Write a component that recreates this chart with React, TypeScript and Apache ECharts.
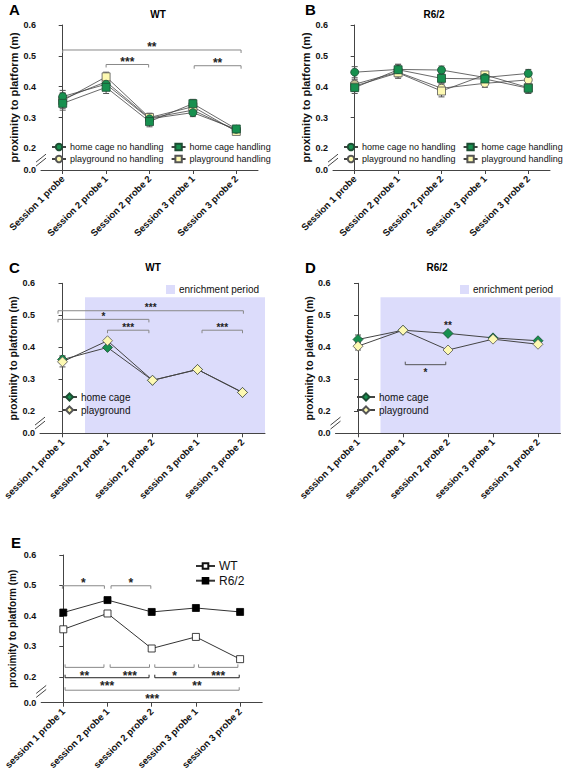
import React, { useEffect, useRef } from 'react';
import * as echarts from 'echarts';

const FONT = 'Liberation Sans, Arial, Helvetica, sans-serif';

// ---- categories ----
const catsAB = ['Session 1 probe', 'Session 2 probe 1', 'Session 2 probe 2', 'Session 3 probe 1', 'Session 3 probe 2'];
const catsCDE = ['session 1 probe 1', 'session 2 probe 1', 'session 2 probe 2', 'session 3 probe 1', 'session 3 probe 2'];

// ---- panel A (WT) ----
const wtHcNoH = [0.368, 0.408, 0.296, 0.316, 0.262];
const wtPgNoH = [0.360, 0.416, 0.298, 0.324, 0.258];
const wtHcH = [0.346, 0.398, 0.287, 0.345, 0.263];
const wtPgH = [0.355, 0.432, 0.300, 0.335, 0.255];
const wtHcNoHErr = [0.020, 0.015, 0.012, 0.013, 0.008];
const wtPgNoHErr = [0.018, 0.015, 0.012, 0.012, 0.008];
const wtHcHErr = [0.022, 0.020, 0.017, 0.014, 0.010];
const wtPgHErr = [0.025, 0.015, 0.014, 0.014, 0.008];

// ---- panel B (R6/2) ----
const r6HcNoH = [0.447, 0.456, 0.454, 0.430, 0.443];
const r6PgNoH = [0.408, 0.447, 0.395, 0.411, 0.422];
const r6HcH = [0.397, 0.455, 0.427, 0.425, 0.395];
const r6PgH = [0.402, 0.445, 0.386, 0.438, 0.397];
const r6HcNoHErr = [0.018, 0.017, 0.013, 0.010, 0.013];
const r6PgNoHErr = [0.016, 0.015, 0.014, 0.013, 0.012];
const r6HcHErr = [0.019, 0.016, 0.015, 0.012, 0.017];
const r6PgHErr = [0.017, 0.018, 0.019, 0.009, 0.017];

// ---- panel C (WT) ----
const wtHomeCage = [0.361, 0.399, 0.296, 0.330, 0.258];
const wtPlayground = [0.354, 0.420, 0.296, 0.330, 0.258];
const wtHomeCageErr = [0.012, 0.004, 0.004, 0.004, 0.004];
const wtPlaygroundErr = [0.016, 0.004, 0.004, 0.004, 0.004];

// ---- panel D (R6/2) ----
const r6HomeCage = [0.424, 0.453, 0.443, 0.429, 0.420];
const r6Playground = [0.403, 0.453, 0.391, 0.425, 0.409];
const r6HomeCageErr = [0.014, 0.005, 0.005, 0.005, 0.005];
const r6PlaygroundErr = [0.012, 0.005, 0.005, 0.005, 0.005];

// enrichment period shading: [from category position, to category position, top value]
const enrichPeriod = [0.5, 4.5, 0.556];

// ---- panel E ----
const eWT = [0.356, 0.408, 0.293, 0.331, 0.258];
const eR6 = [0.411, 0.452, 0.413, 0.426, 0.413];

// ---- y ticks ----
const yTicksAD = [0.13, 0.2, 0.3, 0.4, 0.5, 0.6];
const yTicksE = [0.115, 0.2, 0.3, 0.4, 0.5, 0.6];

// ---- significance brackets: [x1, x2, y, dir]  dir -1: label above, +1: label below, 0: text only ----
const bracketsA = [[0, 4.11, 0.519, -1], [1, 1.98, 0.472, -1], [3.03, 4.11, 0.468, -1]];
const bracketLabelsA = ['**', '***', '**'];
const bracketsC = [[-0.1, 4.02, 0.514, -1], [-0.1, 1.92, 0.487, -1], [1, 1.92, 0.453, -1], [3.1, 4.0, 0.453, -1]];
const bracketLabelsC = ['***', '*', '***', '***'];
const bracketsD = [[1.05, 1.95, 0.345, 1], [2, 2, 0.474, 0]];
const bracketLabelsD = ['*', '**'];
const bracketsEGray = [
  [-0.02, 0.93, 0.499, -1], [1.08, 1.98, 0.499, -1],
  [0.04, 0.92, 0.231, 1], [1.06, 1.95, 0.231, 1], [2.07, 2.96, 0.231, 1], [3.06, 3.95, 0.231, 1],
  [0.04, 3.98, 0.156, 1],
];
const bracketLabelsEGray = ['*', '*', '**', '***', '*', '***', '***'];
const bracketsEBlack = [[0.04, 1.94, 0.197, 1], [2.07, 3.98, 0.197, 1]];
const bracketLabelsEBlack = ['***', '**'];

const breakYs = [0.162, 0.162, 0.162, 0.162, 0.152];

const GREEN = '#17904f';
const YELLOW = '#fdf9b2';
const SHADE = '#dcdcfb';

const grids = [
  { left: 41, top: 25, width: 217, height: 145 },
  { left: 333, top: 25, width: 217, height: 145 },
  { left: 40, top: 283.3, width: 225, height: 150 },
  { left: 335.5, top: 283.3, width: 225, height: 150 },
  { left: 41.2, top: 555, width: 221, height: 147.7 },
];
const yMins = [0.13, 0.13, 0.13, 0.13, 0.115];
const nameGaps = [19, 19, 22, 19.5, 24];
const nameSizes = [11, 11, 10.5, 10.5, 10];

function errSeries(g: number, vals: number[], errs: number[]) {
  return {
    type: 'custom',
    xAxisIndex: 2 * g + 1,
    yAxisIndex: g,
    z: 2,
    clip: false,
    silent: true,
    encode: { x: 0, y: 1 },
    data: vals.map((v, i) => [i, v, errs[i]]),
    renderItem: (params: any, api: any) => {
      const x = api.value(0), y = api.value(1), e = api.value(2);
      const t = api.coord([x, y + e]);
      const b = api.coord([x, y - e]);
      const st = { stroke: '#555', lineWidth: 1 };
      return {
        type: 'group',
        children: [
          { type: 'line', shape: { x1: t[0], y1: t[1], x2: b[0], y2: b[1] }, style: st },
          { type: 'line', shape: { x1: t[0] - 3, y1: t[1], x2: t[0] + 3, y2: t[1] }, style: st },
          { type: 'line', shape: { x1: b[0] - 3, y1: b[1], x2: b[0] + 3, y2: b[1] }, style: st },
        ],
      };
    },
  };
}

function bracketSeries(g: number, rows: number[][], labels: string[], color: string, fs: number) {
  return {
    type: 'custom',
    xAxisIndex: 2 * g + 1,
    yAxisIndex: g,
    z: 5,
    clip: false,
    silent: true,
    encode: { x: [0, 1], y: 2 },
    data: rows,
    renderItem: (params: any, api: any) => {
      const x1 = api.value(0), x2 = api.value(1), y = api.value(2), dir = api.value(3);
      const p1 = api.coord([x1, y]);
      const p2 = api.coord([x2, y]);
      const children: any[] = [];
      if (dir !== 0) {
        children.push({
          type: 'polyline',
          shape: { points: [[p1[0], p1[1] - dir * 3], [p1[0], p1[1]], [p2[0], p2[1]], [p2[0], p2[1] - dir * 3]] },
          style: { stroke: color, fill: null, lineWidth: 1 },
        });
      }
      const cx = (p1[0] + p2[0]) / 2;
      const ty = dir === 0 ? p1[1] : dir < 0 ? p1[1] - 5 : p1[1] + 6;
      children.push({
        type: 'text',
        style: {
          text: labels[params.dataIndex],
          x: cx,
          y: ty + 0.2 * fs,
          align: 'center',
          verticalAlign: 'middle',
          font: `bold ${fs}px ${FONT}`,
          fill: '#222',
        },
      });
      return { type: 'group', children };
    },
  };
}

function breakSeries(g: number) {
  return {
    type: 'custom',
    xAxisIndex: 2 * g + 1,
    yAxisIndex: g,
    z: 6,
    clip: false,
    silent: true,
    encode: { x: 0, y: 1 },
    data: [[-0.5, breakYs[g]]],
    renderItem: (params: any, api: any) => {
      const p = api.coord([api.value(0), api.value(1)]);
      const st = { stroke: '#444', lineWidth: 1 };
      return {
        type: 'group',
        children: [
          { type: 'rect', shape: { x: p[0] - 1.5, y: p[1] - 2, width: 3, height: 4 }, style: { fill: '#fff' } },
          { type: 'line', shape: { x1: p[0] - 5, y1: p[1] + 6, x2: p[0] + 5, y2: p[1] - 2 }, style: st },
          { type: 'line', shape: { x1: p[0] - 5, y1: p[1] + 2, x2: p[0] + 5, y2: p[1] - 6 }, style: st },
        ],
      };
    },
  };
}

function lineSeries(g: number, name: string, data: number[], symbol: string, size: number, fill: string, border: string, lineColor: string, lw: number, z = 3) {
  return {
    type: 'line',
    name,
    xAxisIndex: 2 * g,
    yAxisIndex: g,
    data,
    symbol,
    symbolSize: size,
    z,
    itemStyle: { color: fill, borderColor: border, borderWidth: 0.8, opacity: 1 },
    lineStyle: { color: lineColor, width: lw },
    emphasis: { disabled: true },
  };
}

function enrichSeries(g: number) {
  return {
    type: 'custom',
    name: 'enrichment period',
    xAxisIndex: 2 * g + 1,
    yAxisIndex: g,
    z: 1,
    clip: false,
    silent: true,
    encode: { x: [0, 1], y: 2 },
    itemStyle: { color: SHADE },
    data: [enrichPeriod],
    renderItem: (params: any, api: any) => {
      const a = api.coord([api.value(0), api.value(2)]);
      const b = api.coord([api.value(1), yMins[g]]);
      return {
        type: 'rect',
        shape: { x: a[0], y: a[1], width: b[0] - a[0], height: b[1] - a[1] },
        style: { fill: SHADE },
      };
    },
  };
}

export default function App() {
  const ref = useRef<HTMLDivElement>(null);
  useEffect(() => {
    if (!ref.current) return;
    const chart = echarts.init(ref.current, undefined, { renderer: 'svg' });

    const xAxis: any[] = [];
    const yAxis: any[] = [];
    grids.forEach((gr, g) => {
      xAxis.push({
        type: 'category',
        gridIndex: g,
        data: g < 2 ? catsAB : catsCDE,
        axisLine: { show: true, lineStyle: { color: '#444', width: 1 } },
        axisTick: { show: true, alignWithLabel: true, length: 4, lineStyle: { color: '#444' } },
        axisLabel: { interval: 0, rotate: 45, fontSize: 9.5, fontWeight: 'bold', color: '#111', fontFamily: FONT, margin: 7 },
        z: 3,
      });
      xAxis.push({ type: 'value', gridIndex: g, min: -0.5, max: 4.5, show: false });
      const ticks = g === 4 ? yTicksE : yTicksAD;
      yAxis.push({
        type: 'value',
        gridIndex: g,
        min: yMins[g],
        max: 0.6,
        name: 'proximity to platform (m)',
        nameLocation: 'middle',
        nameRotate: 90,
        nameGap: nameGaps[g],
        nameTextStyle: { fontSize: nameSizes[g], fontWeight: 'bold', fontFamily: FONT, color: '#111' },
        axisLine: { show: true, lineStyle: { color: '#444', width: 1 } },
        axisTick: { show: true, length: 4, lineStyle: { color: '#444' }, customValues: ticks },
        axisLabel: {
          customValues: ticks,
          formatter: (v: number) => (v < 0.15 ? '0.0' : v.toFixed(1)),
          fontSize: 9,
          fontWeight: 'bold',
          color: '#111',
          fontFamily: FONT,
          margin: 5,
        },
        splitLine: { show: false },
      });
    });

    const series: any[] = [];
    // Panel A
    series.push(errSeries(0, wtPgNoH, wtPgNoHErr), errSeries(0, wtPgH, wtPgHErr), errSeries(0, wtHcNoH, wtHcNoHErr), errSeries(0, wtHcH, wtHcHErr));
    series.push(
      lineSeries(0, 'playground no handling', wtPgNoH, 'circle', 8, YELLOW, '#555', '#444', 0.8),
      lineSeries(0, 'playground handling', wtPgH, 'rect', 8, YELLOW, '#555', '#444', 0.8),
      lineSeries(0, 'home cage no handling', wtHcNoH, 'circle', 8, GREEN, '#1d4d33', '#444', 0.8),
      lineSeries(0, 'home cage handling', wtHcH, 'rect', 8, GREEN, '#1d4d33', '#444', 0.8),
    );
    series.push(bracketSeries(0, bracketsA, bracketLabelsA, '#888', 12));
    // Panel B
    series.push(errSeries(1, r6PgNoH, r6PgNoHErr), errSeries(1, r6PgH, r6PgHErr), errSeries(1, r6HcNoH, r6HcNoHErr), errSeries(1, r6HcH, r6HcHErr));
    series.push(
      lineSeries(1, 'playground no handling', r6PgNoH, 'circle', 8, YELLOW, '#555', '#444', 0.8),
      lineSeries(1, 'playground handling', r6PgH, 'rect', 8, YELLOW, '#555', '#444', 0.8),
      lineSeries(1, 'home cage no handling', r6HcNoH, 'circle', 8, GREEN, '#1d4d33', '#444', 0.8),
      lineSeries(1, 'home cage handling', r6HcH, 'rect', 8, GREEN, '#1d4d33', '#444', 0.8),
    );
    // Panel C
    series.push(enrichSeries(2));
    series.push(errSeries(2, wtHomeCage, wtHomeCageErr), errSeries(2, wtPlayground, wtPlaygroundErr));
    series.push(
      lineSeries(2, 'home cage', wtHomeCage, 'diamond', 10, GREEN, '#1d4d33', '#444', 1),
      lineSeries(2, 'playground', wtPlayground, 'diamond', 10, YELLOW, '#555', '#444', 1, 4),
    );
    series.push(bracketSeries(2, bracketsC, bracketLabelsC, '#888', 10));
    // Panel D
    series.push(enrichSeries(3));
    series.push(errSeries(3, r6HomeCage, r6HomeCageErr), errSeries(3, r6Playground, r6PlaygroundErr));
    series.push(
      lineSeries(3, 'home cage', r6HomeCage, 'diamond', 10, GREEN, '#1d4d33', '#444', 1),
      lineSeries(3, 'playground', r6Playground, 'diamond', 10, YELLOW, '#555', '#444', 1, 4),
    );
    series.push(bracketSeries(3, bracketsD, bracketLabelsD, '#555', 10));
    // Panel E
    series.push(
      lineSeries(4, 'WT', eWT, 'rect', 7, '#ffffff', '#111', '#333', 1),
      lineSeries(4, 'R6/2', eR6, 'rect', 7, '#000000', '#000', '#333', 1),
    );
    series.push(bracketSeries(4, bracketsEGray, bracketLabelsEGray, '#888', 12));
    series.push(bracketSeries(4, bracketsEBlack, bracketLabelsEBlack, '#222', 12));
    for (let g = 0; g < 5; g++) series.push(breakSeries(g));

    const lg = (data: string[], left: number, top: number, fs: number, extra: any = {}) => ({
      data,
      left,
      top,
      padding: 0,
      itemWidth: 14,
      itemHeight: 8,
      itemGap: 7,
      selectedMode: false,
      textStyle: { fontSize: fs, fontFamily: FONT, color: '#111', padding: [0, 0, 0, -1] },
      ...extra,
    });

    const txt = (text: string, x: number, y: number, size: number, align = 'center') => ({
      type: 'text',
      x,
      y,
      silent: true,
      style: { text, x: 0, y: 0, align, verticalAlign: 'middle', font: `bold ${size}px ${FONT}`, fill: '#000' },
    });

    chart.setOption({
      animation: false,
      grid: grids.map((g) => ({ ...g, containLabel: false })),
      xAxis,
      yAxis,
      series,
      legend: [
        lg(['home cage no handling', 'home cage handling'], 51, 142.5, 9),
        lg(['playground no handling', 'playground handling'], 51, 154.5, 9),
        lg(['home cage no handling', 'home cage handling'], 343, 142.5, 9),
        lg(['playground no handling', 'playground handling'], 343, 154.5, 9),
        lg(['home cage'], 61, 392, 10, { itemWidth: 15, itemHeight: 9 }),
        lg(['playground'], 61, 405, 10, { itemWidth: 15, itemHeight: 9 }),
        lg([{ name: 'enrichment period', icon: 'rect', itemStyle: { color: SHADE } }], 166, 284.5, 10, { itemWidth: 9, itemHeight: 9 }),
        lg(['home cage'], 356, 392, 10, { itemWidth: 18, itemHeight: 9 }),
        lg(['playground'], 356, 405, 10, { itemWidth: 18, itemHeight: 9 }),
        lg([{ name: 'enrichment period', icon: 'rect', itemStyle: { color: SHADE } }], 460, 284.5, 10, { itemWidth: 9, itemHeight: 9 }),
        lg(['WT'], 195, 560, 12, { itemWidth: 19, itemHeight: 7 }),
        lg(['R6/2'], 195, 574.7, 12, { itemWidth: 19, itemHeight: 7 }),
      ],
      graphic: [
        txt('A', 9, 9, 15, 'left'),
        txt('B', 305, 9, 15, 'left'),
        txt('C', 9, 267, 15, 'left'),
        txt('D', 305, 267, 15, 'left'),
        txt('E', 11, 542, 15, 'left'),
        txt('WT', 158, 14, 10),
        txt('R6/2', 434, 14, 10),
        txt('WT', 153, 267, 10),
        txt('R6/2', 437, 267, 10),
      ],
    });
    return () => chart.dispose();
  }, []);
  return <div ref={ref} style={{ position: 'fixed', left: 0, top: 0, width: 564, height: 781, background: '#fff' }} />;
}
